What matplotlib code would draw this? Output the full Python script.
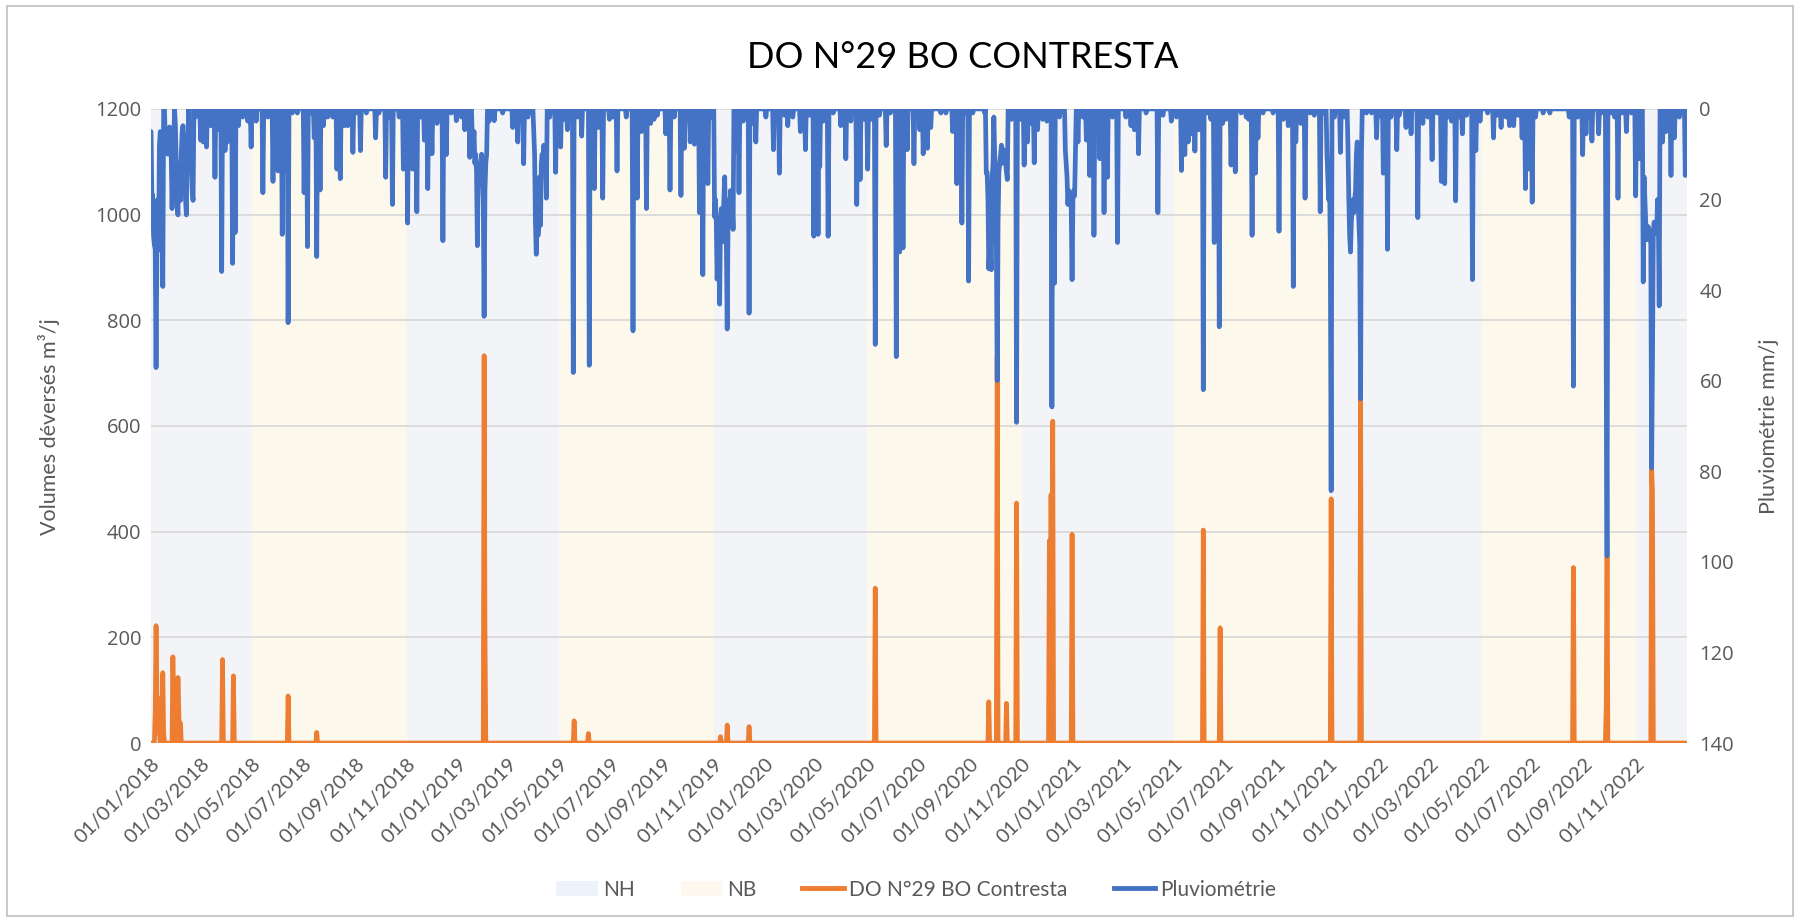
import matplotlib
matplotlib.use("Agg")
import matplotlib.pyplot as plt
from matplotlib.patches import Patch, Rectangle
from matplotlib.lines import Line2D
import numpy as np
import pandas as pd

# période des données journalières
start = "2018-01-01"
end = "2022-12-31"

# pluviométrie (mm/j) : jour depuis le 01/01/2018 -> valeur
rain_day = [
    0, 1, 2, 3, 4, 5, 6, 7, 8, 9, 10, 11, 12, 13, 14, 17, 18, 19, 20, 21, 22, 23, 24, 25, 26, 27,
    29, 30, 31, 32, 33, 34, 35, 36, 37, 38, 39, 40, 41, 42, 43, 44, 46, 47, 48, 49, 50, 53, 59,
    62, 66, 71, 76, 80, 84, 88, 91, 97, 100, 104, 109, 115, 119, 125, 133, 139, 145, 151, 156,
    160, 163, 168, 174, 182, 186, 191, 194, 197, 201, 205, 210, 216, 221, 225, 230, 234, 240,
    244, 249, 256, 267, 271, 279, 283, 287, 295, 300, 305,
    311, 316, 321, 325, 329, 334, 340, 343, 347, 351, 357, 363, 369, 373, 379, 382, 383, 384,
    385, 386, 387, 388, 389, 390, 391, 392, 393, 394, 395, 396, 397, 398, 399, 402, 408, 418,
    430, 436, 443, 448, 453, 455, 456, 457, 458, 459, 460, 461, 462, 463, 464, 465, 466, 467,
    468, 469, 470, 474, 481, 487, 491, 495, 502, 507, 512, 521, 527, 532, 537, 545, 549, 554,
    565, 573, 578, 583, 589, 594, 598, 602, 612, 617,
    622, 630, 634, 638, 641, 646, 652, 656, 659, 662, 666, 670, 671, 672, 673, 674, 675, 676,
    677, 678, 679, 680, 681, 682, 683, 684, 685, 686, 687, 688, 689, 690, 691, 692, 696, 699,
    704, 711, 715, 719, 731, 740, 747, 753, 757, 763, 772, 778, 783, 788, 793, 795, 799, 805,
    811, 820, 826, 832, 839, 843, 848, 852, 856, 861, 866, 874, 879, 886, 890, 894, 899, 907,
    914, 918, 923,
    927, 939, 945, 953, 958, 964, 968, 972, 977, 991, 993, 994, 995, 996, 997, 998, 999, 1000,
    1001, 1002, 1003, 1004, 1005, 1006, 1007, 1008, 1009, 1010, 1011, 1012, 1013, 1014, 1015,
    1016, 1017, 1018, 1023, 1029, 1034, 1038, 1042, 1046, 1050, 1054, 1060, 1065, 1071, 1074,
    1080, 1087, 1088, 1089, 1090, 1091, 1092, 1093, 1094, 1095, 1096, 1097, 1098, 1099, 1102,
    1108, 1112, 1116, 1121, 1126, 1128, 1133, 1137, 1143, 1149, 1159, 1165, 1169, 1174, 1183,
    1197, 1203, 1213, 1219, 1225, 1229, 1233,
    1237, 1241, 1246, 1251, 1256, 1260, 1264, 1267, 1270, 1274, 1278, 1284, 1289, 1296, 1302,
    1305, 1309, 1313, 1316, 1322, 1334, 1341, 1346, 1352, 1358, 1361, 1367, 1372, 1378, 1383,
    1390, 1394, 1398, 1399, 1400, 1401, 1402, 1403, 1407, 1414, 1419, 1423, 1424, 1425, 1426,
    1427, 1428, 1429, 1430, 1431, 1432, 1433, 1434, 1435, 1436, 1437, 1438, 1439, 1445, 1451,
    1457, 1463, 1465, 1470, 1474, 1481, 1484, 1492, 1498, 1506, 1512, 1518, 1523, 1529, 1534,
    1538,
    1542, 1546, 1551, 1556, 1559, 1564, 1571, 1575, 1580, 1589, 1596, 1600, 1605, 1611, 1615,
    1620, 1625, 1630, 1634, 1637, 1642, 1646, 1655, 1663, 1686, 1691, 1696, 1702, 1706, 1713,
    1721, 1724, 1730, 1731, 1736, 1740, 1744, 1749, 1754, 1760, 1765, 1769, 1774, 1775, 1776,
    1777, 1778, 1779, 1780, 1781, 1782, 1783, 1784, 1785, 1786, 1787, 1788, 1789, 1790, 1791,
    1792, 1793, 1797, 1801, 1807, 1811, 1817, 1824,
]
rain_mm = [
    5, 19, 19, 28, 30, 31, 57.1, 31, 20, 31.2, 8, 5, 10, 25, 39.2, 7.3, 5, 8, 10, 8.7, 4, 6, 10, 22, 15, 8,
    3.7, 12, 20, 23.4, 12, 15, 20.2, 10, 5, 3.7, 8, 12, 20, 23.4, 10, 6, 9.2, 8, 12, 18, 20.2, 1.8, 6.9,
    7.3, 8.4, 3.7, 15.1, 4.6, 35.9, 9.2, 7.3, 34.1, 27.3, 3.7, 1.8, 2.7, 8.4, 2.7, 18.5, 1.8, 16, 13.7, 27.7,
    13.7, 47.2, 0.9, 0.9, 18.5, 30.4, 0.9, 6.4, 32.6, 17.9, 3.7, 1.8, 1.8, 13.3, 15.4, 3.7, 3.7, 9.6,
    0.9, 9.2, 0.9, 6.4, 0.9, 15.1, 1.8, 21.1, 1.8, 13.3, 25.2,
    13.3, 22.7, 1.8, 6.9, 17.6, 9.9, 3.2, 1.8, 29.1, 10.1, 0.9, 2.6, 1.8, 4.6, 10.7, 7.3, 8, 5,
    12, 10, 14, 30.2, 13, 12, 13.7, 12, 10, 15, 20, 45.8, 18, 12, 10.1, 2.7, 2.6, 0.9,
    4.1, 7.3, 12.1, 1.8, 0.9, 5, 10, 25, 32.1, 20, 28, 26, 15, 25.7, 12, 10, 13.7, 8,
    12, 10, 19.7, 1.8, 14, 8.4, 2.3, 4.6, 58.2, 1.8, 6, 56.6, 17.6, 4.1, 19.7, 2.3, 1.8, 13.7,
    1.8, 49, 19.7, 5, 22, 3.2, 2.3, 1.4, 5.5, 17.9,
    1.8, 19.1, 8.7, 2.3, 7.3, 7.8, 22.9, 36.6, 7.3, 16.5, 1.8, 23.8, 20, 25, 37.6, 30, 28, 43.1,
    25, 22, 25, 29.3, 20, 15, 25, 30, 48.6, 25, 20, 22.9, 18, 24, 20, 26.6, 9.2, 18.5,
    2.7, 45.1, 3.2, 7.3, 1.8, 9, 14.2, 1.4, 3.7, 1.8, 5, 9, 1.4, 28.1, 27.7, 12.8, 2.7, 28.1,
    0.9, 3.7, 11, 2.7, 21.1, 15.6, 2.3, 13.3, 2.3, 52, 1.4, 8.1, 0.9, 54.7, 31.6, 30.7, 9, 12.1,
    4.6, 9.9, 8.7,
    4.1, 0.9, 0.9, 5, 16.5, 25.2, 0.9, 38, 0.9, 0.9, 14.2, 14, 20, 35.3, 30, 32, 35.5, 15,
    12, 1.8, 10, 15, 30, 60, 25, 14, 11.9, 10, 8, 12, 10, 9, 11.9,
    12, 14, 15.6, 2.3, 69.2, 2.3, 12.4, 7.3, 3.2, 11.9, 4.6, 2.3, 2.7, 65.8, 38.5,
    1.8, 9.2, 12, 15, 21.1, 18, 20, 19, 22, 37.7, 20, 18, 19.2, 10, 7.3,
    1.8, 6.9, 14.7, 27.9, 2.7, 11, 22.9, 15.1, 1.8, 29.5, 1.8, 3.7, 4.6, 9.9, 0.9,
    22.9, 1.4, 2.7, 1.8, 13.6, 10.1, 7.3,
    5.5, 9.3, 4.6, 62, 0.9, 2.3, 29.5, 11.9, 48.1, 3.2, 2.3, 12.4, 13.9, 0.9, 1.8,
    2.3, 27.9, 14.2, 6.4, 0.9, 0.9, 27, 2.3, 3.7, 39.2, 7.3, 3.2, 19.7, 0.9, 1.4,
    22.7, 0.9, 10, 14.7, 20, 15, 30, 84.3, 1.8, 9.6, 1.8, 8.7, 20, 28, 31.6,
    25, 22, 20, 22.9, 20, 18, 10, 7.3, 20, 25, 30, 64, 10, 0.9, 0.9,
    6.4, 1.8, 14.2, 31, 1.8, 9, 1.4, 4.1, 5.5, 24, 3.2, 1.8, 11.2, 0.9, 16,
    16.5,
    1.8, 2.7, 20.3, 1.8, 5.5, 1.4, 37.7, 9.2, 2.7, 0.9, 6.4, 1.4, 4.1, 1.8, 3.7,
    3.7, 1.4, 6.4, 17.6, 13.3, 20.6, 1.8, 0.9, 0.9, 1.8, 61.2, 1.8, 10.1, 5.5, 7.1,
    5.5, 0.9, 56.3, 98.7, 0.9, 1.8, 19.7, 0.9, 5, 0.9, 19.2, 11, 38.2, 15, 20,
    25, 28.9, 27, 26, 27, 27.5, 30, 79.3, 55.9, 27, 25, 27.5, 26, 27.5, 20,
    25, 43.5, 7.3, 5, 14.7, 6.4, 1.8, 14.7,
]

# volumes déversés DO N°29 (m3/j)
do_day = [5, 6, 7, 8, 9, 10, 13, 14, 15, 26, 27, 32, 33, 35, 85, 98, 163, 197,
          396, 397, 503, 520, 677, 685, 711, 861,
          996, 1006, 1017, 1029, 1068, 1070, 1072, 1095,
          1251, 1271, 1403, 1438, 1691, 1730, 1731, 1784, 1785]
do_vol = [60, 222, 90, 40, 85, 20, 50, 133, 20, 163, 60, 124, 60, 38, 158, 127, 89, 20,
          733, 218, 42, 18, 12, 34, 31, 293,
          78, 733, 75, 454, 383, 470, 609, 395,
          403, 218, 462, 652, 332, 69, 354, 520, 477]

# saisons nappe haute / nappe basse
season_start = ["2018-01-01", "2018-05-01", "2018-11-01", "2019-05-01", "2019-11-01",
                "2020-05-01", "2020-11-01", "2021-05-01", "2021-11-01", "2022-05-01",
                "2022-11-01"]
season_name = ["NH", "NB", "NH", "NB", "NH", "NB", "NH", "NB", "NH", "NB", "NH"]

dates = pd.date_range(start, end, freq="D")
t0 = pd.Timestamp(start)
rain = pd.Series(0.0, index=dates)
rain[[t0 + pd.Timedelta(days=d) for d in rain_day]] = rain_mm
vol = pd.Series(0.0, index=dates)
vol[[t0 + pd.Timedelta(days=d) for d in do_day]] = do_vol

c_nh = "#F2F4F7"
c_nb = "#FDF8EC"
c_do = "#ED7D31"
c_pl = "#4472C4"
grey = "#595959"

x_end = pd.Timestamp("2023-01-01")

fig = plt.figure(figsize=(18, 9.23), dpi=100)
fig.patches.append(Rectangle((0.004, 0.008), 0.992, 0.986, transform=fig.transFigure,
                             fill=False, edgecolor="#BFBFBF", linewidth=1.2))
ax = fig.add_axes([0.0839, 0.195, 0.8533, 0.687])

bounds = [pd.Timestamp(s) for s in season_start] + [x_end]
for i, name in enumerate(season_name):
    ax.axvspan(bounds[i], bounds[i + 1], color=c_nh if name == "NH" else c_nb,
               lw=0, zorder=0)

ax.set_ylim(0, 1200)
ax.set_yticks(range(0, 1201, 200))
ax.grid(axis="y", color="#D9D9D9", linewidth=1.3, zorder=1)
ax.set_axisbelow(False)
ax.plot(vol.index, vol.values, color=c_do, lw=3.4, solid_joinstyle="round",
        solid_capstyle="round", zorder=3)

ax2 = ax.twinx()
ax2.plot(rain.index, rain.values, color=c_pl, lw=3.4, solid_joinstyle="round",
         solid_capstyle="round", zorder=3)
ax2.set_ylim(140, 0)
ax2.set_yticks(range(0, 141, 20))

ax.set_xlim(pd.Timestamp(start), x_end)
ticks = pd.date_range("2018-01-01", "2022-11-01", freq="2MS")
ax.set_xticks(ticks)
ax.set_xticklabels([d.strftime("%d/%m/%Y") for d in ticks], rotation=45, ha="right",
                   rotation_mode="anchor", fontsize=14.5, color=grey, family="Lato")

for a in (ax, ax2):
    for s in a.spines.values():
        s.set_visible(False)
    a.tick_params(length=0)
ax.tick_params(axis="x", pad=9)
ax.tick_params(axis="y", pad=7)
ax2.tick_params(axis="y", pad=9)
for lab in ax.get_yticklabels() + ax2.get_yticklabels():
    lab.set_fontsize(14.5)
    lab.set_color(grey)
    lab.set_family("Open Sans")

fig.text(0.535, 0.938, "DO N°29 BO CONTRESTA", ha="center", va="center",
         fontsize=26, family="Lato", color="black")
fig.text(0.027, 0.538, "Volumes déversés m³/j", rotation=90, ha="center", va="center",
         fontsize=15.5, family="Lato", color=grey)
fig.text(0.983, 0.538, "Pluviométrie mm/j", rotation=90, ha="center", va="center",
         fontsize=15.5, family="Lato", color=grey)

handles = [Patch(facecolor="#EEF2FA", edgecolor="none", label="NH"),
           Patch(facecolor="#FEF9EE", edgecolor="none", label="NB"),
           Line2D([], [], color=c_do, lw=3.5, label="DO N°29 BO Contresta"),
           Line2D([], [], color=c_pl, lw=3.5, label="Pluviométrie")]
leg = fig.legend(handles=handles, loc="center", bbox_to_anchor=(0.509, 0.036), ncol=4,
                 frameon=False, prop={"family": "Lato", "size": 15}, handlelength=2.0,
                 columnspacing=2.2, handletextpad=0.25)
for txt in leg.get_texts():
    txt.set_color(grey)

fig.savefig("out.png", dpi=100)
